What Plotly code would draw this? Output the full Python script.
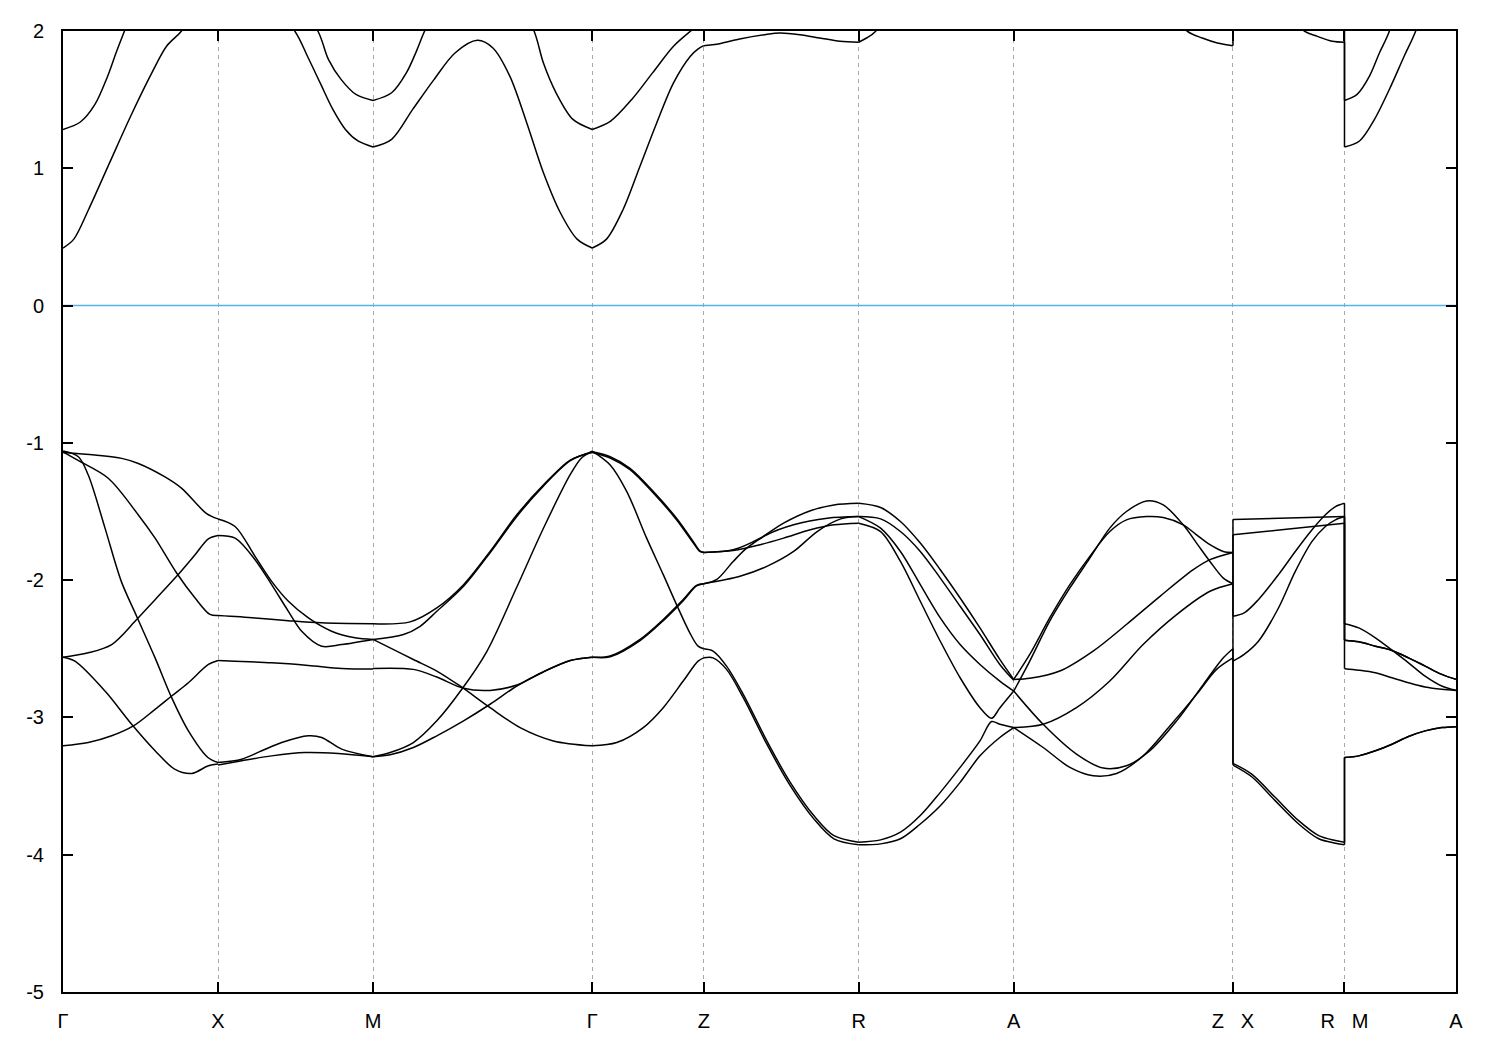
import plotly.graph_objects as go

# ---------------- high-symmetry path ----------------
labels = ["Γ", "X", "M", "Γ", "Z", "R", "A",
          "Z\u00a0\u00a0\u00a0X", "R\u00a0\u00a0\u00a0M", "A"]
seg_len = [1.0, 1.0, 1.4142, 0.7194, 1.0, 1.0, 1.4142, 0.7194, 0.7194]
tick_pos = [0.0]
for L in seg_len:
    tick_pos.append(tick_pos[-1] + L)

# ---------------- valence bands, per segment: (t along segment, energy eV) ----------------
GX_val = [
    ([0, 0.206, 0.379, 0.486, 0.655, 0.766, 0.924, 1], [-1.07, -1.089, -1.113, -1.15, -1.246, -1.331, -1.513, -1.554]),
    ([0, 0.1, 0.292, 0.486, 0.594, 0.733, 0.852, 0.948, 1], [-1.065, -1.13, -1.258, -1.525, -1.694, -1.948, -2.13, -2.25, -2.258]),
    ([0, 0.099, 0.163, 0.271, 0.376, 0.475, 0.594, 0.701, 0.809, 0.935, 1], [-1.06, -1.101, -1.234, -1.621, -2.009, -2.263, -2.566, -2.856, -3.098, -3.292, -3.328]),
    ([0, 0.163, 0.314, 0.475, 0.594, 0.733, 0.852, 0.938, 1], [-2.561, -2.529, -2.469, -2.287, -2.142, -1.972, -1.815, -1.699, -1.675]),
    ([0, 0.077, 0.271, 0.443, 0.594, 0.72, 0.83, 0.938, 1], [-2.561, -2.59, -2.808, -3.05, -3.243, -3.376, -3.408, -3.352, -3.34]),
    ([0, 0.163, 0.314, 0.454, 0.594, 0.701, 0.809, 0.938, 1], [-3.207, -3.183, -3.134, -3.062, -2.941, -2.844, -2.747, -2.614, -2.585]),
]
XM_val = [
    ([0, 0.11, 0.239, 0.346, 0.454, 0.583, 0.733, 0.884, 1], [-1.554, -1.609, -1.827, -2.009, -2.154, -2.275, -2.372, -2.42, -2.432]),
    ([0, 0.11, 0.239, 0.346, 0.454, 0.54, 0.669, 0.798, 1], [-1.675, -1.694, -1.851, -2.033, -2.227, -2.372, -2.481, -2.469, -2.432]),
    ([0, 0.239, 0.454, 0.669, 1], [-2.258, -2.275, -2.295, -2.311, -2.318]),
    ([0, 0.11, 0.346, 0.583, 0.798, 1], [-2.585, -2.59, -2.602, -2.621, -2.643, -2.648]),
    ([0, 0.153, 0.282, 0.411, 0.583, 0.669, 0.798, 1], [-3.328, -3.304, -3.243, -3.183, -3.134, -3.146, -3.231, -3.287]),
    ([0, 0.153, 0.346, 0.561, 0.776, 1], [-3.347, -3.316, -3.28, -3.256, -3.263, -3.287]),
]
MG_val = [
    ([0, 0.169, 0.291, 0.413, 0.534, 0.656, 0.778, 0.9, 1], [-2.318, -2.304, -2.202, -2.033, -1.791, -1.524, -1.306, -1.125, -1.07]),
    ([0, 0.139, 0.215, 0.291, 0.413, 0.534, 0.656, 0.778, 0.9, 1], [-2.432, -2.396, -2.336, -2.227, -2.045, -1.80, -1.536, -1.314, -1.13, -1.065]),
    ([0, 0.078, 0.184, 0.291, 0.397, 0.534, 0.671, 0.823, 1], [-2.432, -2.493, -2.578, -2.662, -2.771, -2.929, -3.074, -3.171, -3.207]),
    ([0, 0.184, 0.291, 0.413, 0.534, 0.656, 0.778, 0.9, 1], [-2.643, -2.65, -2.706, -2.788, -2.803, -2.764, -2.667, -2.585, -2.561]),
    ([0, 0.078, 0.184, 0.291, 0.405, 0.519, 0.656, 0.778, 0.9, 0.951, 1], [-3.287, -3.256, -3.183, -3.025, -2.795, -2.52, -2.05, -1.62, -1.23, -1.11, -1.06]),
    ([0, 0.078, 0.184, 0.291, 0.413, 0.534, 0.656, 0.778, 0.9, 1], [-3.287, -3.272, -3.219, -3.134, -3.025, -2.904, -2.771, -2.667, -2.585, -2.561]),
]
GZ_val = [
    ([0, 0.161, 0.339, 0.548, 0.756, 0.905, 0.964, 1], [-1.065, -1.101, -1.186, -1.355, -1.549, -1.718, -1.786, -1.798]),
    ([0, 0.161, 0.339, 0.548, 0.756, 0.905, 0.964, 1], [-1.07, -1.11, -1.195, -1.365, -1.56, -1.728, -1.79, -1.798]),
    ([0, 0.161, 0.31, 0.488, 0.637, 0.756, 0.875, 0.949, 1], [-1.06, -1.161, -1.355, -1.694, -1.96, -2.178, -2.384, -2.481, -2.50]),
    ([0, 0.161, 0.429, 0.637, 0.816, 0.935, 1], [-2.561, -2.553, -2.432, -2.287, -2.142, -2.038, -2.026]),
    ([0, 0.161, 0.429, 0.637, 0.816, 0.935, 1], [-2.561, -2.558, -2.44, -2.295, -2.15, -2.042, -2.026]),
    ([0, 0.22, 0.458, 0.637, 0.816, 0.949, 1], [-3.207, -3.183, -3.074, -2.929, -2.735, -2.59, -2.566]),
]
ZR_val = [
    ([0, 0.19, 0.364, 0.515, 0.688, 0.84, 1], [-1.798, -1.779, -1.694, -1.585, -1.495, -1.452, -1.44]),
    ([0, 0.19, 0.364, 0.515, 0.688, 0.84, 1], [-1.798, -1.784, -1.742, -1.694, -1.633, -1.597, -1.585]),
    ([0, 0.082, 0.19, 0.277, 0.407, 0.58, 0.797, 1], [-2.026, -1.997, -1.864, -1.767, -1.670, -1.597, -1.549, -1.537]),
    ([0, 0.234, 0.407, 0.58, 0.732, 0.883, 1], [-2.026, -1.972, -1.90, -1.791, -1.646, -1.554, -1.537]),
    ([0, 0.06, 0.147, 0.255, 0.407, 0.558, 0.71, 0.84, 1], [-2.50, -2.517, -2.626, -2.832, -3.171, -3.473, -3.715, -3.861, -3.909]),
    ([0, 0.06, 0.147, 0.255, 0.407, 0.558, 0.71, 0.84, 1], [-2.566, -2.566, -2.65, -2.856, -3.195, -3.497, -3.739, -3.884, -3.928]),
]
RA_val = [
    ([0, 0.141, 0.269, 0.397, 0.526, 0.654, 0.782, 0.91, 1], [-1.44, -1.471, -1.573, -1.730, -1.924, -2.13, -2.348, -2.577, -2.723]),
    ([0, 0.141, 0.269, 0.397, 0.526, 0.654, 0.782, 0.91, 1], [-1.537, -1.554, -1.646, -1.791, -1.985, -2.19, -2.396, -2.614, -2.73]),
    ([0, 0.141, 0.269, 0.397, 0.526, 0.654, 0.782, 0.91, 1], [-1.537, -1.621, -1.791, -2.033, -2.275, -2.469, -2.614, -2.735, -2.808]),
    ([0, 0.141, 0.269, 0.397, 0.526, 0.654, 0.782, 0.857, 0.91, 1], [-1.585, -1.646, -1.864, -2.154, -2.445, -2.711, -2.929, -3.006, -2.931, -2.808]),
    ([0, 0.141, 0.269, 0.397, 0.526, 0.654, 0.782, 0.857, 0.91, 1], [-3.909, -3.892, -3.836, -3.715, -3.546, -3.364, -3.171, -3.03, -3.05, -3.074]),
    ([0, 0.141, 0.269, 0.397, 0.526, 0.654, 0.782, 0.91, 1], [-3.928, -3.921, -3.884, -3.776, -3.643, -3.473, -3.28, -3.146, -3.074]),
]
AZ_val = [
    ([0, 0.073, 0.164, 0.256, 0.347, 0.438, 0.514, 0.606, 0.682, 0.773, 0.834, 0.895, 0.956, 1],
     [-2.808, -2.59, -2.299, -2.057, -1.839, -1.621, -1.50, -1.423, -1.452, -1.597, -1.73, -1.864, -1.985, -2.026]),
    ([0, 0.073, 0.164, 0.256, 0.347, 0.438, 0.514, 0.606, 0.682, 0.773, 0.834, 0.895, 0.956, 1],
     [-2.723, -2.541, -2.275, -2.033, -1.827, -1.646, -1.561, -1.537, -1.544, -1.597, -1.670, -1.742, -1.791, -1.798]),
    ([0, 0.073, 0.21, 0.362, 0.514, 0.667, 0.819, 0.895, 1], [-2.723, -2.715, -2.662, -2.517, -2.323, -2.118, -1.924, -1.851, -1.798]),
    ([0, 0.134, 0.286, 0.438, 0.59, 0.743, 0.895, 1], [-3.074, -3.05, -2.929, -2.735, -2.469, -2.251, -2.081, -2.026]),
    ([0, 0.134, 0.286, 0.408, 0.514, 0.621, 0.743, 0.865, 0.956, 1], [-2.808, -3.05, -3.267, -3.369, -3.352, -3.243, -3.025, -2.759, -2.566, -2.50]),
    ([0, 0.134, 0.256, 0.362, 0.469, 0.59, 0.712, 0.834, 0.925, 1], [-3.074, -3.219, -3.364, -3.425, -3.408, -3.28, -3.062, -2.832, -2.65, -2.566]),
]
XR_val = [
    ([0, 0.5, 1], [-1.558, -1.548, -1.537]),
    ([0, 0.5, 1], [-1.67, -1.627, -1.585]),
    ([0, 0.1, 0.228, 0.408, 0.559, 0.709, 0.829, 0.919, 1], [-2.263, -2.239, -2.142, -1.96, -1.791, -1.633, -1.524, -1.464, -1.44]),
    ([0, 0.1, 0.228, 0.408, 0.559, 0.709, 0.829, 0.919, 1], [-2.59, -2.541, -2.445, -2.203, -1.936, -1.718, -1.609, -1.561, -1.537]),
    ([0, 0.168, 0.378, 0.589, 0.769, 0.919, 1], [-3.335, -3.413, -3.582, -3.752, -3.861, -3.897, -3.909]),
    ([0, 0.168, 0.378, 0.589, 0.769, 0.919, 1], [-3.347, -3.432, -3.606, -3.776, -3.884, -3.916, -3.928]),
]
MA_val = [
    ([0, 0.128, 0.277, 0.426, 0.574, 0.723, 0.872, 1], [-2.318, -2.348, -2.42, -2.510, -2.602, -2.699, -2.771, -2.803]),
    ([0, 0.128, 0.277, 0.426, 0.574, 0.723, 0.872, 1], [-2.437, -2.449, -2.481, -2.512, -2.566, -2.626, -2.686, -2.723]),
    ([0, 0.128, 0.277, 0.426, 0.574, 0.723, 0.872, 1], [-2.437, -2.449, -2.481, -2.512, -2.566, -2.626, -2.686, -2.723]),
    ([0, 0.128, 0.277, 0.426, 0.574, 0.723, 0.872, 1], [-2.645, -2.656, -2.675, -2.711, -2.747, -2.778, -2.795, -2.803]),
    ([0, 0.128, 0.277, 0.426, 0.574, 0.723, 0.872, 1], [-3.292, -3.28, -3.243, -3.195, -3.139, -3.098, -3.074, -3.067]),
    ([0, 0.128, 0.277, 0.426, 0.574, 0.723, 0.872, 1], [-3.292, -3.28, -3.243, -3.195, -3.139, -3.098, -3.074, -3.067]),
]

# ---------------- conduction bands (lowest two), per segment ----------------
GX_con = [
    ([0, 0.07, 0.166, 0.301, 0.437, 0.573, 0.668, 0.763, 0.88, 1], [0.419, 0.484, 0.702, 1.041, 1.381, 1.695, 1.889, 1.998, 2.2, 2.35]),
    ([0, 0.112, 0.206, 0.288, 0.342, 0.396, 0.5, 0.75, 1], [1.283, 1.337, 1.465, 1.671, 1.84, 1.998, 2.3, 2.7, 2.8]),
]
XM_con = [
    ([0, 0.25, 0.496, 0.577, 0.659, 0.741, 0.822, 0.903, 1], [2.35, 2.3, 1.998, 1.816, 1.622, 1.429, 1.283, 1.199, 1.155]),
    ([0, 0.3, 0.645, 0.713, 0.795, 0.89, 1], [2.8, 2.6, 1.998, 1.792, 1.646, 1.538, 1.494]),
]
MG_con = [
    ([0, 0.085, 0.181, 0.278, 0.374, 0.476, 0.547, 0.624, 0.701, 0.777, 0.854, 0.931, 1],
     [1.155, 1.211, 1.429, 1.646, 1.84, 1.932, 1.876, 1.671, 1.332, 0.969, 0.678, 0.484, 0.419]),
    ([0, 0.085, 0.152, 0.201, 0.235, 0.35, 0.5, 0.62, 0.735, 0.777, 0.835, 0.912, 1],
     [1.494, 1.55, 1.695, 1.864, 1.998, 2.35, 2.5, 2.35, 1.998, 1.768, 1.55, 1.356, 1.283]),
]
GZ_con = [
    ([0, 0.128, 0.278, 0.429, 0.579, 0.729, 0.88, 0.95, 1], [0.419, 0.484, 0.702, 1.017, 1.332, 1.622, 1.816, 1.87, 1.893]),
    ([0, 0.165, 0.354, 0.541, 0.729, 0.88, 1], [1.283, 1.344, 1.501, 1.695, 1.889, 1.998, 2.08]),
]
ZR_con = [
    ([0, 0.071, 0.232, 0.394, 0.491, 0.62, 0.749, 0.879, 1], [1.893, 1.901, 1.942, 1.973, 1.985, 1.973, 1.949, 1.925, 1.918]),
    ([0, 0.5, 1], [2.08, 2.3, 2.2]),
]
RA_con = [
    ([0, 0.05, 0.109, 0.3, 0.6, 1], [1.918, 1.949, 1.998, 2.4, 2.8, 2.9]),
    ([0, 0.5, 1], [2.2, 2.9, 3.2]),
]
AZ_con = [
    ([0, 0.4, 0.65, 0.792, 0.86, 0.929, 1], [2.9, 2.6, 2.25, 1.998, 1.949, 1.913, 1.893]),
    ([0, 0.5, 1], [3.2, 2.6, 2.08]),
]
XR_con = [
    ([0, 0.3, 0.643, 0.756, 0.89, 1], [2.35, 2.25, 1.998, 1.961, 1.925, 1.918]),
    ([0, 0.5, 1], [2.8, 2.5, 2.2]),
]
MA_con = [
    ([0, 0.135, 0.269, 0.402, 0.535, 0.638, 0.8, 1], [1.155, 1.199, 1.356, 1.574, 1.816, 1.998, 2.4, 2.9]),
    ([0, 0.113, 0.224, 0.313, 0.402, 0.6, 1], [1.494, 1.538, 1.671, 1.84, 1.998, 2.6, 3.2]),
]

segments = [GX_val + GX_con, XM_val + XM_con, MG_val + MG_con, GZ_val + GZ_con,
            ZR_val + ZR_con, RA_val + RA_con, AZ_val + AZ_con, XR_val + XR_con,
            MA_val + MA_con]

# band order used when the path jumps at Z|X (index into energy-sorted list, highest first)
ZX_pairing = [0, 1, 2, 4, 3, 5, 6, 7]

fig = go.Figure()

# Fermi level
fig.add_trace(go.Scatter(x=[tick_pos[0], tick_pos[-1]], y=[0, 0], mode="lines",
                         line=dict(color="#56B4E9", width=1.4), hoverinfo="skip"))

band_line = dict(color="black", width=1.5, shape="spline", smoothing=0.9)
for si, seg in enumerate(segments):
    k0, L = tick_pos[si], seg_len[si]
    for tt, ee in seg:
        fig.add_trace(go.Scatter(x=[k0 + L * t for t in tt], y=ee, mode="lines",
                                 line=band_line, hoverinfo="skip"))


def jump(left, right, k, pairing=None):
    lv = sorted([c[1][-1] for c in left], reverse=True)
    rv = sorted([c[1][0] for c in right], reverse=True)
    if pairing is not None:
        rv = [rv[p] for p in pairing]
    xs, ys = [], []
    for a, b in zip(lv, rv):
        xs += [k, k, None]
        ys += [a, b, None]
    fig.add_trace(go.Scatter(x=xs, y=ys, mode="lines",
                             line=dict(color="black", width=1.5), hoverinfo="skip"))


jump(AZ_val + AZ_con, XR_val + XR_con, tick_pos[7], ZX_pairing)
jump(XR_val + XR_con, MA_val + MA_con, tick_pos[8])

font = dict(family="Liberation Sans, Arial, sans-serif", size=20, color="black")
fig.update_layout(
    width=1500, height=1050,
    margin=dict(l=55, r=52, t=20, b=66),
    paper_bgcolor="white", plot_bgcolor="white",
    showlegend=False, font=font,
)
fig.update_xaxes(
    range=[tick_pos[0], tick_pos[-1]], tickmode="array", tickvals=tick_pos, ticktext=labels,
    ticks="inside", ticklen=10, tickwidth=1.5, tickcolor="black",
    showline=True, linewidth=2, linecolor="black", mirror="ticks",
    showgrid=True, gridcolor="#a8a8a8", gridwidth=1, griddash="4px,4px",
    zeroline=False, tickfont=font, ticklabelstandoff=10,
)
fig.update_yaxes(
    range=[-5, 2], tickmode="array", tickvals=[-5, -4, -3, -2, -1, 0, 1, 2],
    ticktext=["-5", "-4", "-3", "-2", "-1", "0", "1", "2"],
    ticks="inside", ticklen=10, tickwidth=1.5, tickcolor="black",
    showline=True, linewidth=2, linecolor="black", mirror="ticks",
    showgrid=False, zeroline=False, tickfont=font, ticklabelstandoff=13,
)

fig.write_html("out.html")
